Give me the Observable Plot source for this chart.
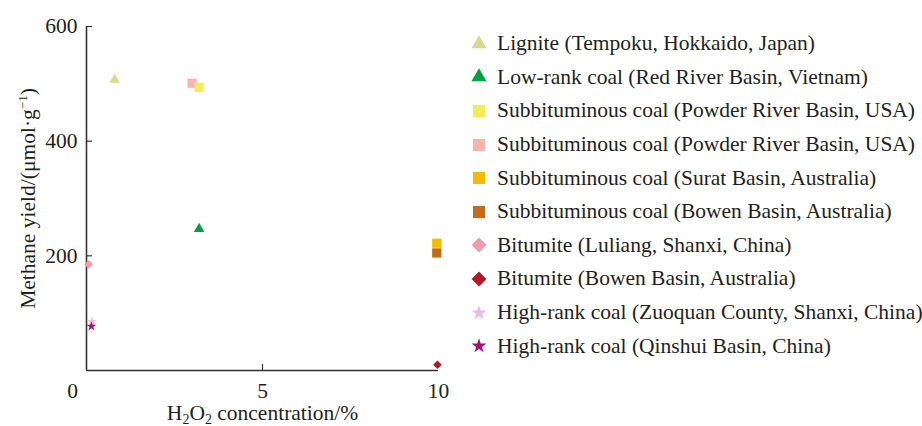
<!DOCTYPE html>
<html><head><meta charset="utf-8">
<script src="https://cdn.jsdelivr.net/npm/d3@7"></script>
<script src="https://cdn.jsdelivr.net/npm/@observablehq/plot@0.6"></script>
<style>
body{margin:0;background:#fff;}
#wrap{position:relative;width:922px;height:426px;font-family:serif;color:#231f20;}
#chart{position:absolute;left:0;top:0;}
#legend{position:absolute;left:466px;top:27px;}
.row{display:flex;align-items:center;height:33.6px;font-size:21.5px;white-space:nowrap;}
.row svg{width:26px;height:20px;margin-right:5px;flex:none;}
</style></head><body><div id="wrap"><div id="chart"></div><div id="legend"></div></div>
<script>
const series = [
  "Lignite (Tempoku, Hokkaido, Japan)",
  "Low-rank coal (Red River Basin, Vietnam)",
  "Subbituminous coal (Powder River Basin, USA)",
  "Subbituminous coal (Powder River Basin, USA)",
  "Subbituminous coal (Surat Basin, Australia)",
  "Subbituminous coal (Bowen Basin, Australia)",
  "Bitumite (Luliang, Shanxi, China)",
  "Bitumite (Bowen Basin, Australia)",
  "High-rank coal (Zuoquan County, Shanxi, China)",
  "High-rank coal (Qinshui Basin, China)"
];
const h2o2 = [0.8, 3.2, 3.2, 3.0, 9.95, 9.95, 0.06, 9.97, 0.15, 0.14];
const methane = [507, 247, 494, 501, 222, 205, 185, 10, 85, 77];
const colors = ["#d5da92", "#00a040", "#f2ec58", "#f9b5ac", "#f6bb00", "#c56a1a", "#ef9cab", "#b1182a", "#f0b8e4", "#a0137e"];
const symbols = ["triangle", "triangle", "square", "square", "square", "square", "diamond2", "diamond2", "star", "star"];
const drawOrder = [0, 1, 3, 2, 4, 5, 6, 7, 8, 9];
const yTicks = [200, 400, 600];
const xTicks = [5, 10];

const plotR = {triangle: 3.9, square: 5.2, diamond2: 3.9, star: 3.1};
const legendSize = {triangle: 97, square: 144, diamond2: 140, star: 68};

const data = drawOrder.map(i => ({name: series[i], x: h2o2[i], y: methane[i], fill: colors[i], symbol: symbols[i], r: plotR[symbols[i]]}));

const axisColor = "#3b3333";
const plot = Plot.plot({
  width: 460, height: 426,
  marginLeft: 86, marginRight: 22, marginTop: 26, marginBottom: 56,
  style: {fontFamily: "serif", fontSize: "21px", color: "#231f20", background: "transparent", overflow: "visible"},
  x: {domain: [0, 10]},
  y: {domain: [0, 600]},
  r: {type: "identity"},
  marks: [
    Plot.axisY({ticks: yTicks, tickSize: 0, tickPadding: 9, fontSize: 21.5, label: "Methane yield/(μmol·g−1)", labelAnchor: "center", labelOffset: 67}),
    Plot.axisY({ticks: yTicks, tickSize: 6, dx: 6, text: null, label: null, stroke: axisColor, strokeWidth: 1.2}),
    Plot.axisX({ticks: xTicks, tickSize: 0, tickPadding: 12, fontSize: 21.5, label: "H2O2 concentration/%", labelAnchor: "center", labelOffset: 49}),
    Plot.axisX({ticks: [0], tickSize: 0, tickPadding: 12, fontSize: 21.5, dx: -14, label: null}),
    Plot.axisX({ticks: [5], tickSize: 6, dy: -6, text: null, label: null, stroke: axisColor, strokeWidth: 1.2}),
    Plot.ruleX([0], {stroke: axisColor, strokeWidth: 1.6}),
    Plot.ruleY([0], {stroke: axisColor, strokeWidth: 1.6}),
    Plot.dot(data, {x: "x", y: "y", symbol: "symbol", fill: "fill", r: "r", stroke: null})
  ]
});
document.getElementById("chart").appendChild(plot);

const xl = plot.querySelector('[aria-label="x-axis label"] text');
if (xl) {
  xl.textContent = "";
  const parts = [["H", 0], ["2", 1], ["O", 0], ["2", 1], [" concentration/%", 0]];
  let shifted = false;
  for (const [t, sub] of parts) {
    const ts = document.createElementNS("http://www.w3.org/2000/svg", "tspan");
    ts.textContent = t;
    if (sub) { ts.setAttribute("dy", "4"); ts.setAttribute("font-size", "14"); shifted = true; }
    else if (shifted) { ts.setAttribute("dy", "-4"); shifted = false; }
    xl.appendChild(ts);
  }
}
const yl = plot.querySelector('[aria-label="y-axis label"] text');
if (yl) {
  yl.textContent = "";
  const parts = [["Methane yield/(μmol·g", 0], ["−1", 1], [")", 0]];
  for (const [t, sup] of parts) {
    const ts = document.createElementNS("http://www.w3.org/2000/svg", "tspan");
    ts.textContent = t;
    if (sup) { ts.setAttribute("dy", "-8"); ts.setAttribute("font-size", "13"); }
    else if (t === ")") ts.setAttribute("dy", "8");
    yl.appendChild(ts);
  }
}

const legend = d3.select("#legend");
const symMap = {triangle: d3.symbolTriangle, square: d3.symbolSquare, diamond2: d3.symbolDiamond2, star: d3.symbolStar};
series.forEach((name, i) => {
  const row = legend.append("div").attr("class", "row");
  const svg = row.append("svg").attr("viewBox", "-13 -10 26 20");
  svg.append("path").attr("d", d3.symbol(symMap[symbols[i]], legendSize[symbols[i]])()).attr("fill", colors[i]);
  row.append("span").text(name);
});
</script></body></html>
